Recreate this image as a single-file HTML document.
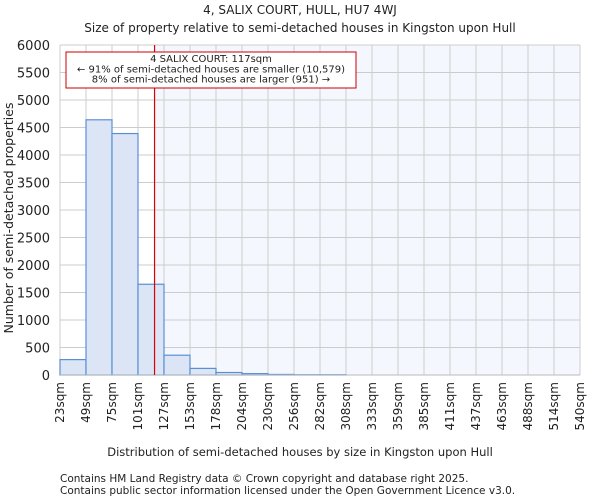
<!DOCTYPE html>
<html><head><meta charset="utf-8"><style>
body{margin:0;background:#fff;font-family:"DejaVu Sans","Liberation Sans",sans-serif;}
svg text{font-family:"DejaVu Sans","Liberation Sans",sans-serif;fill:#222;}
</style></head><body>
<svg id="c" width="600" height="500">
<text x="300" y="14" text-anchor="middle" font-size="12">4, SALIX COURT, HULL, HU7 4WJ</text>
<text x="300" y="32" text-anchor="middle" font-size="12">Size of property relative to semi-detached houses in Kingston upon Hull</text>
<g id="plot"></g>
<text x="300" y="456" text-anchor="middle" font-size="11.5">Distribution of semi-detached houses by size in Kingston upon Hull</text>
<text x="13" y="218" text-anchor="middle" font-size="12.5" transform="rotate(-90 13 218)">Number of semi-detached properties</text>
<text x="60" y="482" font-size="10.5">Contains HM Land Registry data © Crown copyright and database right 2025.</text>
<text x="60" y="494" font-size="10.5">Contains public sector information licensed under the Open Government Licence v3.0.</text>
</svg>
<script>
const categories=["23sqm","49sqm","75sqm","101sqm","127sqm","153sqm","178sqm","204sqm","230sqm","256sqm","282sqm","308sqm","333sqm","359sqm","385sqm","411sqm","437sqm","463sqm","488sqm","514sqm","540sqm"];
const counts=[280,4640,4390,1650,360,120,45,25,10,5,5,0,0,0,0,0,0,0,0,0];
const yTicks=[0,500,1000,1500,2000,2500,3000,3500,4000,4500,5000,5500,6000];
const markerValue=117;
const binStart=23, binWidth=25.85;
const X0=60,X1=580,Y0=375,Y1=45,YMAX=6000;
const ns="http://www.w3.org/2000/svg";
const g=document.getElementById('plot');
const nb=counts.length;
const xIdx=i=>X0+(X1-X0)*i/nb;
const xVal=v=>X0+(X1-X0)*(v-binStart)/(binWidth*nb);
const y=v=>Y0-(Y0-Y1)*v/YMAX;
function mk(t,a){const e=document.createElementNS(ns,t);for(const k in a)e.setAttribute(k,a[k]);g.appendChild(e);return e;}
const mx=xVal(markerValue);
let bg=mk('rect',{x:mx,y:Y1,width:X1-mx,height:Y0-Y1,fill:'#f4f7fd'});


yTicks.forEach(t=>{let l=mk('line',{x1:X0,x2:X1,y1:y(t),y2:y(t),stroke:'#ccc','stroke-width':1});


let tx=mk('text',{x:X0-10,y:y(t)+5,'text-anchor':'end','font-size':13});tx.textContent=t;

});
categories.forEach((c,i)=>{let l=mk('line',{x1:xIdx(i),x2:xIdx(i),y1:Y1,y2:Y0,stroke:'#ccc','stroke-width':1});


let tx=mk('text',{x:0,y:0,'text-anchor':'end','font-size':12,transform:`translate(${xIdx(i)+4},382) rotate(-90)`});tx.textContent=c;

});
counts.forEach((v,i)=>{if(v<=0)return;let r=mk('rect',{x:xIdx(i),y:y(v),width:xIdx(i+1)-xIdx(i),height:Y0-y(v),fill:'#dbe5f5',stroke:'#5a8fd6','stroke-width':1.2});

});
let ax=mk('line',{x1:X0,x2:X1,y1:Y0,y2:Y0,stroke:'#bbb','stroke-width':1});


let ml=mk('line',{x1:mx,x2:mx,y1:Y1,y2:Y0,stroke:'#d00','stroke-width':1.2});


let box=mk('rect',{x:66,y:52,width:290,height:36,fill:'#fff',stroke:'#c00','stroke-width':1});


["4 SALIX COURT: 117sqm","← 91% of semi-detached houses are smaller (10,579)","8% of semi-detached houses are larger (951) →"].forEach((s,i)=>{let t=mk('text',{x:211,y:62+i*10.3,'text-anchor':'middle','font-size':10});t.textContent=s;

});
</script>
</body></html>
